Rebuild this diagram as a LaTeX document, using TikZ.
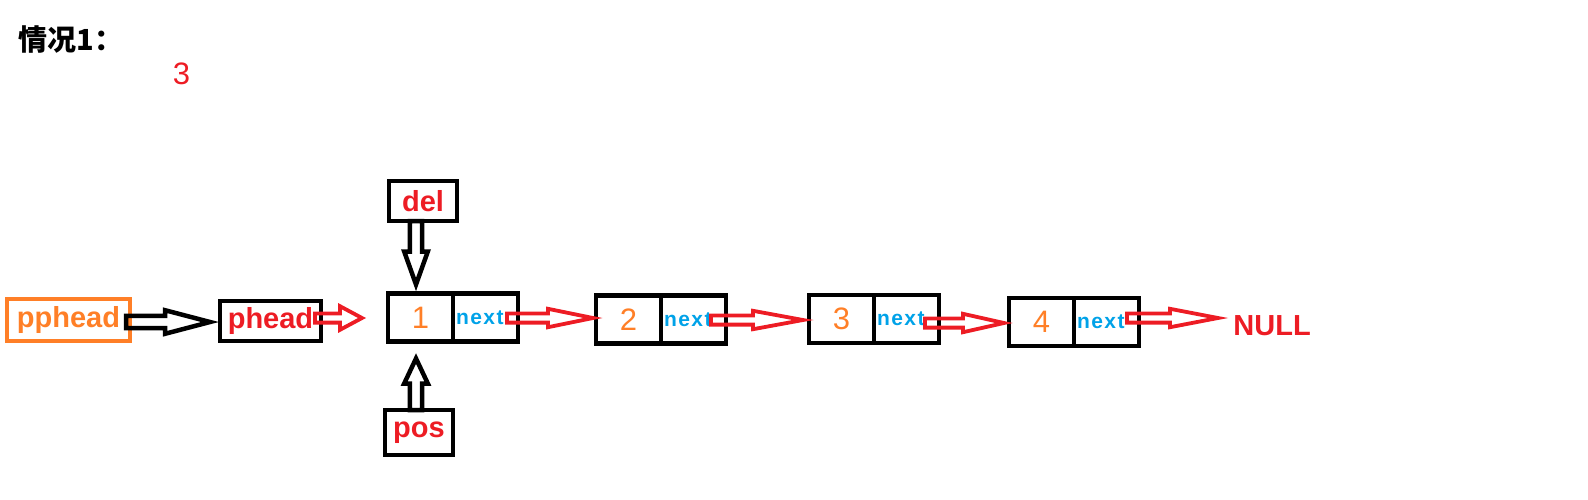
\documentclass[tikz,border=0pt]{standalone}
\usepackage{fontspec}
\setmainfont{Liberation Sans}
\newfontfamily\cjkfont{Noto Sans CJK SC}
\usetikzlibrary{calc,positioning}
\definecolor{pt_red}{RGB}{237,28,36}
\definecolor{pt_orange}{RGB}{255,127,39}
\definecolor{pt_blue}{RGB}{0,162,232}
\newcommand\shaftw{3pt}
\newcommand\headw{6pt}
% hollow block arrow: [style]{head length}{from}{to}
\newcommand\blockarrow[4][]{%
  \coordinate (bh) at ($(#4)!#2!(#3)$);
  \draw[#1] ($(#3)!\shaftw!90:(#4)$) -- ($(bh)!\shaftw!90:(#4)$) -- ($(bh)!\headw!90:(#4)$) -- (#4)
    -- ($(bh)!\headw!-90:(#4)$) -- ($(bh)!\shaftw!-90:(#4)$) -- ($(#3)!\shaftw!-90:(#4)$) -- cycle;
}

\begin{document}
\begin{tikzpicture}[x=0.5pt,y=-0.5pt]
    \tikzstyle{label}=[text=pt_red,font=\bfseries\fontsize{14.5}{16}\selectfont]
    \tikzstyle{box}=[style=label,draw,line width=2.25pt,outer sep=0pt,inner sep=0pt]
    \tikzstyle{cell}=[draw,line width=2.25pt,outer sep=0pt,inner sep=0pt,minimum width=32.5pt,minimum height=24pt]
    \tikzstyle{datacell}=[style=cell,text=pt_orange,font=\fontsize{15.5}{18}\selectfont]
    \tikzstyle{nextcell}=[style=cell,text=pt_blue,text width=29.5pt,inner xsep=1.5pt,align=left,
      font=\bfseries\fontsize{10.5}{12}\selectfont\addfontfeature{LetterSpace=7}]
    \tikzstyle{blackarrow}=[draw=black,line width=2.25pt,/utils/exec={\def\shaftw{3.1pt}\def\headw{5.9pt}}]
    \tikzstyle{redarrow}=[draw=pt_red,line width=1.9pt,/utils/exec={\def\shaftw{2.3pt}\def\headw{4.6pt}}]
    \tikzstyle{bighead}=[/utils/exec={\def\headw{5.9pt}}]

    \useasboundingbox (0,0) rectangle (1588,499);

    \node[anchor=west,inner sep=0pt,font=\cjkfont\bfseries\fontsize{14.5}{16}\selectfont] (T) at (18,40) {情况1：};
    \node[text=pt_red,font=\fontsize{15.5}{18}\selectfont] (K) at (181.5,74) {3};

    \node[box,draw=pt_orange,text=pt_orange,minimum width=61.5pt,minimum height=21pt] (PP) at (68.5,320) {pphead};
    \node[box,minimum width=50.5pt,minimum height=20pt] (P) at (270.5,321) {phead};
    \node[box,minimum width=34pt,minimum height=20pt]   (D) at (423,201)   {del};
    \node[box,minimum width=34pt,minimum height=22.5pt] (S) at (419,432.5) {pos};

    \node[datacell] (N1) at (420.5,317.5) {1};
    \node[nextcell,right=0pt of N1] (N1n) {next};
    \node[datacell] (N2) at (628.5,319.5) {2};
    \node[nextcell,right=0pt of N2] (N2n) {next};
    \node[datacell] (N3) at (841.5,319)   {3};
    \node[nextcell,right=0pt of N3] (N3n) {next};
    \node[datacell] (N4) at (1041.5,322)  {4};
    \node[nextcell,right=0pt of N4] (N4n) {next};

    \node[label,anchor=west,inner sep=0pt] (NL) at (1233,326) {NULL};

    % arrow ends
    \coordinate (a0) at ($(PP.east)+(-4,2)$);
    \coordinate (a1) at ($(P.west)+(-10,1)$);
    \coordinate (b0) at ($(P.east)+(-6,-3)$);
    \coordinate (b1) at ($(N1.west)+(-26,0.5)$);
    \coordinate (c0) at ($(D.south)+(-7,0)$);
    \coordinate (c1) at ($(N1.north)+(-4.5,-9)$);
    \coordinate (d0) at ($(S.north)+(-3,0)$);
    \coordinate (d1) at ($(N1.south)+(-4.5,17)$);
    \coordinate (e0) at ($(N1n.east)+(-11,0.5)$);
    \coordinate (e1) at ($(N2.west)+(-3,-1.5)$);
    \coordinate (f0) at ($(N2n.east)+(-15,0.5)$);
    \coordinate (f1) at ($(N3.west)+(-6,1)$);
    \coordinate (g0) at ($(N3n.east)+(-14,4)$);
    \coordinate (g1) at ($(N4.west)+(-5,1)$);
    \coordinate (h0) at ($(N4n.east)+(-12,-4)$);
    \coordinate (h1) at ($(NL.west)+(-15,-8)$);

    \blockarrow[blackarrow]{22.5pt}{a0}{a1}
    \blockarrow[redarrow,bighead]{11pt}{b0}{b1}
    \blockarrow[blackarrow]{16.5pt}{c0}{c1}
    \blockarrow[blackarrow]{12.5pt}{d0}{d1}
    \blockarrow[redarrow]{22.5pt}{e0}{e1}
    \blockarrow[redarrow]{25pt}{f0}{f1}
    \blockarrow[redarrow]{20.5pt}{g0}{g1}
    \blockarrow[redarrow]{24pt}{h0}{h1}
\end{tikzpicture}
\end{document}
